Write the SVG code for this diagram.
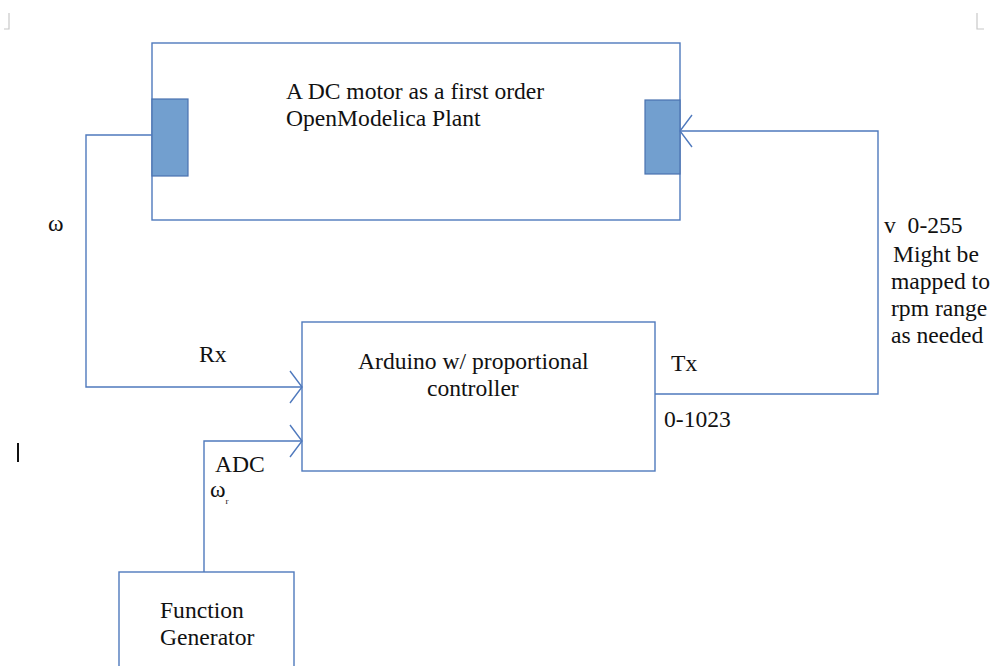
<svg xmlns="http://www.w3.org/2000/svg" width="994" height="666" viewBox="0 0 994 666">
<style>
.box{fill:#fff;stroke:#4f79bd;stroke-width:1.4}
.port{fill:#729fcf;stroke:#4a72b0;stroke-width:1.2}
.wire{fill:none;stroke:#4f79bd;stroke-width:1.4}
.t{font-family:"Liberation Serif","Times New Roman",serif;font-size:23.6px;fill:#111}
.mark{fill:none;stroke:#c8c8c8;stroke-width:1.2}
</style>
<defs>
<marker id="open" viewBox="0 0 14 34" refX="13" refY="17" markerWidth="14" markerHeight="34" markerUnits="userSpaceOnUse" orient="auto">
<path d="M1,1 L13,17 L1,33" fill="none" stroke="#4f79bd" stroke-width="1.4"/>
</marker>
</defs>
<rect width="994" height="666" fill="#fff"/>
<path class="mark" d="M4,29 H9 V13"/>
<path class="mark" d="M977,13 V29 H984"/>
<rect x="17" y="443" width="2" height="19" fill="#111"/>
<g id="plant">
<rect class="box" x="152" y="43" width="528" height="177"/>
<rect class="port" x="152" y="99" width="36" height="77"/>
<rect class="port" x="645" y="100" width="35" height="74"/>
<text class="t" x="286" y="99">A DC motor as a first order</text>
<text class="t" x="286" y="126">OpenModelica Plant</text>
</g>
<g id="arduino">
<rect class="box" x="302" y="322" width="353" height="149"/>
<text class="t" x="358" y="369">Arduino w/ proportional</text>
<text class="t" x="427" y="396">controller</text>
</g>
<g id="generator">
<rect class="box" x="119" y="572" width="175" height="100"/>
<text class="t" x="160" y="618">Function</text>
<text class="t" x="160" y="645">Generator</text>
</g>
<g id="connectors">
<path class="wire" d="M152,135 H86 V387 H302" marker-end="url(#open)"/>
<path class="wire" d="M204,572 V441 H302" marker-end="url(#open)"/>
<path class="wire" d="M655,394 H878 V131 H680" marker-end="url(#open)"/>
</g>
<g id="labels">
<text class="t" x="48" y="231">ω</text>
<text class="t" x="199" y="362">Rx</text>
<text class="t" x="671" y="371">Tx</text>
<text class="t" x="664" y="427">0-1023</text>
<text class="t" x="884" y="233" xml:space="preserve">v  0-255</text>
<text class="t" x="893" y="262">Might be</text>
<text class="t" x="891" y="289">mapped to</text>
<text class="t" x="891" y="316">rpm range</text>
<text class="t" x="891" y="343">as needed</text>
<text class="t" x="215" y="472">ADC</text>
<text class="t" x="210" y="497">ω<tspan font-size="9" dy="7">r</tspan></text>
</g>
</svg>
